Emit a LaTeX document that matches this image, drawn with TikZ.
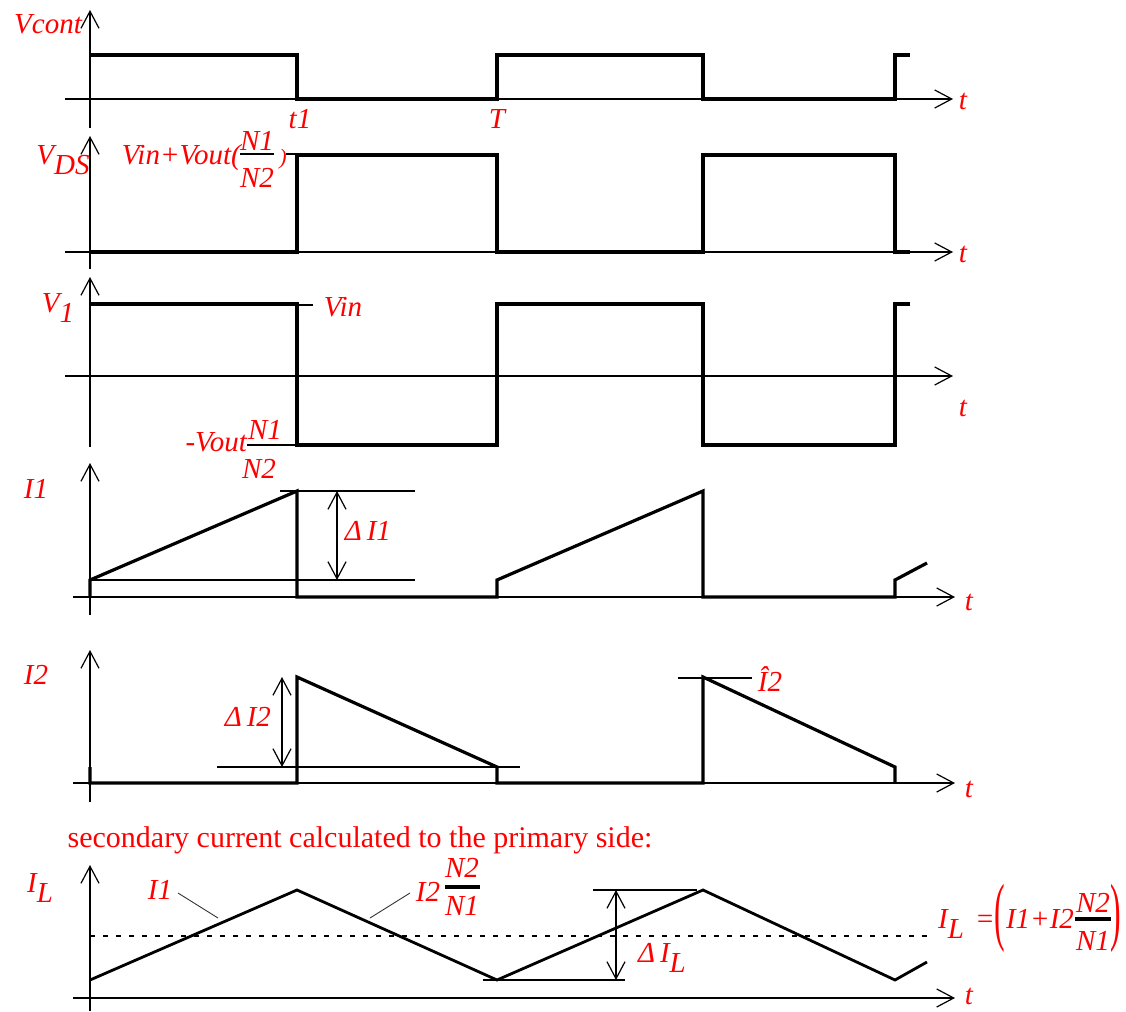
\documentclass[tikz,border=0pt]{standalone}
\usepackage{amsmath}
\usepackage{graphicx}
\usepackage{fontspec}
\setmainfont{Liberation Serif}
\usetikzlibrary{arrows.meta}
\begin{document}
\begin{tikzpicture}[x=1pt,y=-1pt,
  axis/.style={line width=1.2pt,black},
  wave/.style={line width=3.2pt,black,line join=miter},
  thinline/.style={line width=1.2pt,black},
  fracbar/.style={line width=3.5pt,black},
  arr/.style={-{Straight Barb[length=17pt,width=18pt]}},
  darr/.style={{Straight Barb[length=17pt,width=18pt]}-{Straight Barb[length=17pt,width=18pt]}},
  lab/.style={text=red,font=\fontsize{29}{34}\selectfont\itshape,inner sep=0pt},
  txt/.style={text=red,font=\fontsize{30}{36}\selectfont,inner sep=0pt},
  leader/.style={line width=0.9pt,black!80}]
\useasboundingbox (0,0) rectangle (1126,1011);
\newcommand{\lowr}[1]{\raisebox{-0.35em}{#1}}
% ---------- Panel 1: Vcont
\draw[axis,arr] (90,128) -- (90,10);
\draw[axis,arr] (65,99) -- (953,99);
\draw[wave] (90,55) -- (297,55) -- (297,99) -- (497,99) -- (497,55) -- (703,55) -- (703,99) -- (895,99) -- (895,55) -- (910,55);
\node[lab] (vcont) at (48,24) {Vcont};
\node[lab] (t1) at (300,119) {t1};
\node[lab] (T) at (497,119) {T};
\node[lab] (ta) at (963,101) {t};
% ---------- Panel 2: VDS
\draw[axis,arr] (90,269) -- (90,136);
\draw[axis,arr] (65,252) -- (953,252);
\draw[wave] (90,252) -- (297,252) -- (297,155) -- (497,155) -- (497,252) -- (703,252) -- (703,155) -- (895,155) -- (895,252) -- (910,252);
\node[lab] (vds) at (63,160) {V\lowr{DS}};
\node[lab,anchor=base east] (vinvout) at (241,165) {Vin+Vout(};
\node[lab] (n1a) at (257,141) {N1};
\node[lab] (n2a) at (257,178) {N2};
\draw[thinline] (240,154) -- (274,154);
\node[lab,font=\fontsize{22}{26}\selectfont\itshape] (rpa) at (283,159) {)};
\draw[thinline] (286,154) -- (297,154);
\node[lab] (tb) at (963,254) {t};
% ---------- Panel 3: V1
\draw[axis,arr] (90,447) -- (90,277);
\draw[axis,arr] (65,376) -- (953,376);
\draw[wave] (90,304) -- (297,304) -- (297,445) -- (497,445) -- (497,304) -- (703,304) -- (703,445) -- (895,445) -- (895,304) -- (910,304);
\draw[thinline] (297,305) -- (313,305);
\node[lab] (vone) at (58,308) {V\lowr{1}};
\node[lab] (vin) at (343,307) {Vin};
\node[lab,anchor=base east] (vout) at (247,451) {-Vout};
\draw[thinline] (247,445) -- (297,445);
\node[lab] (n1b) at (265,430) {N1};
\node[lab] (n2b) at (259,469) {N2};
\node[lab] (tc) at (963,408) {t};
% ---------- Panel 4: I1
\draw[axis,arr] (90,615) -- (90,463);
\draw[axis,arr] (73,597) -- (955,597);
\draw[wave] (90,597) -- (90,580) -- (297,491) -- (297,597) -- (497,597) -- (497,580) -- (703,491) -- (703,597) -- (895,597) -- (895,580) -- (927,563);
\draw[thinline] (280,491) -- (415,491);
\draw[thinline] (90,580) -- (415,580);
\draw[thinline,darr] (337,491) -- (337,580);
\node[lab] (ione) at (36,489) {I1};
\node[lab] (dione) at (368,531) {Δ\,I1};
\node[lab] (td) at (969,602) {t};
% ---------- Panel 5: I2
\draw[axis,arr] (90,802) -- (90,650);
\draw[axis,arr] (73,783) -- (955,783);
\draw[wave] (90,767) -- (90,783) -- (297,783) -- (297,677) -- (497,767) -- (497,783) -- (703,783) -- (703,677) -- (895,767) -- (895,783);
\draw[thinline] (217,767) -- (520,767);
\draw[thinline] (678,678) -- (752,678);
\draw[thinline,darr] (282,677) -- (282,767);
\node[lab] (itwo) at (36,675) {I2};
\node[lab] (ditwo) at (248,717) {Δ\,I2};
\node[lab] (ihat) at (770,679) {\^{I}2};
\node[lab] (te) at (969,789) {t};
% ---------- Panel 6: IL
\node[txt] (sec) at (360,840) {secondary current calculated to the primary side:};
\draw[axis,arr] (90,1011) -- (90,865);
\draw[axis,arr] (73,998) -- (955,998);
\draw[line width=1.2pt,dash pattern=on 5pt off 8pt] (90,936) -- (930,936);
\draw[wave,line width=2.8pt] (90,980) -- (297,890) -- (497,980) -- (703,890) -- (895,980) -- (927,962);
\draw[thinline] (593,890) -- (697,890);
\draw[thinline] (483,980) -- (625,980);
\draw[thinline,darr] (616,890) -- (616,980);
\node[lab] (il) at (40,888) {I\lowr{L}};
\node[lab] (ionel) at (160,890) {I1};
\draw[leader] (178,893) -- (218,918);
\node[lab] (itwol) at (428,892) {I2};
\node[lab] (n2c) at (462,868) {N2};
\draw[fracbar] (445,887) -- (480,887);
\node[lab] (n1c) at (462,906) {N1};
\draw[leader] (410,893) -- (370,918);
\node[lab] (dil) at (662,958) {Δ\,I\lowr{L}};
% equation
\node[lab,anchor=base west] (eqil) at (938,928) {I\lowr{L}};
\node[lab] (eqeq) at (985,922) {=};
\node[lab,font=\fontsize{29}{34}\selectfont] (eqlp) at (1000,918) {\scalebox{1.1}[2.6]{(}};
\node[lab,anchor=base] (eqsum) at (1040,928) {I1+I2};
\node[lab] (eqn2) at (1093,903) {N2};
\draw[fracbar] (1075,919) -- (1111,919);
\node[lab] (eqn1) at (1093,941) {N1};
\node[lab,font=\fontsize{29}{34}\selectfont] (eqrp) at (1116,918) {\scalebox{1.1}[2.6]{)}};
\node[lab] (tf) at (969,996) {t};
\end{tikzpicture}
\end{document}
